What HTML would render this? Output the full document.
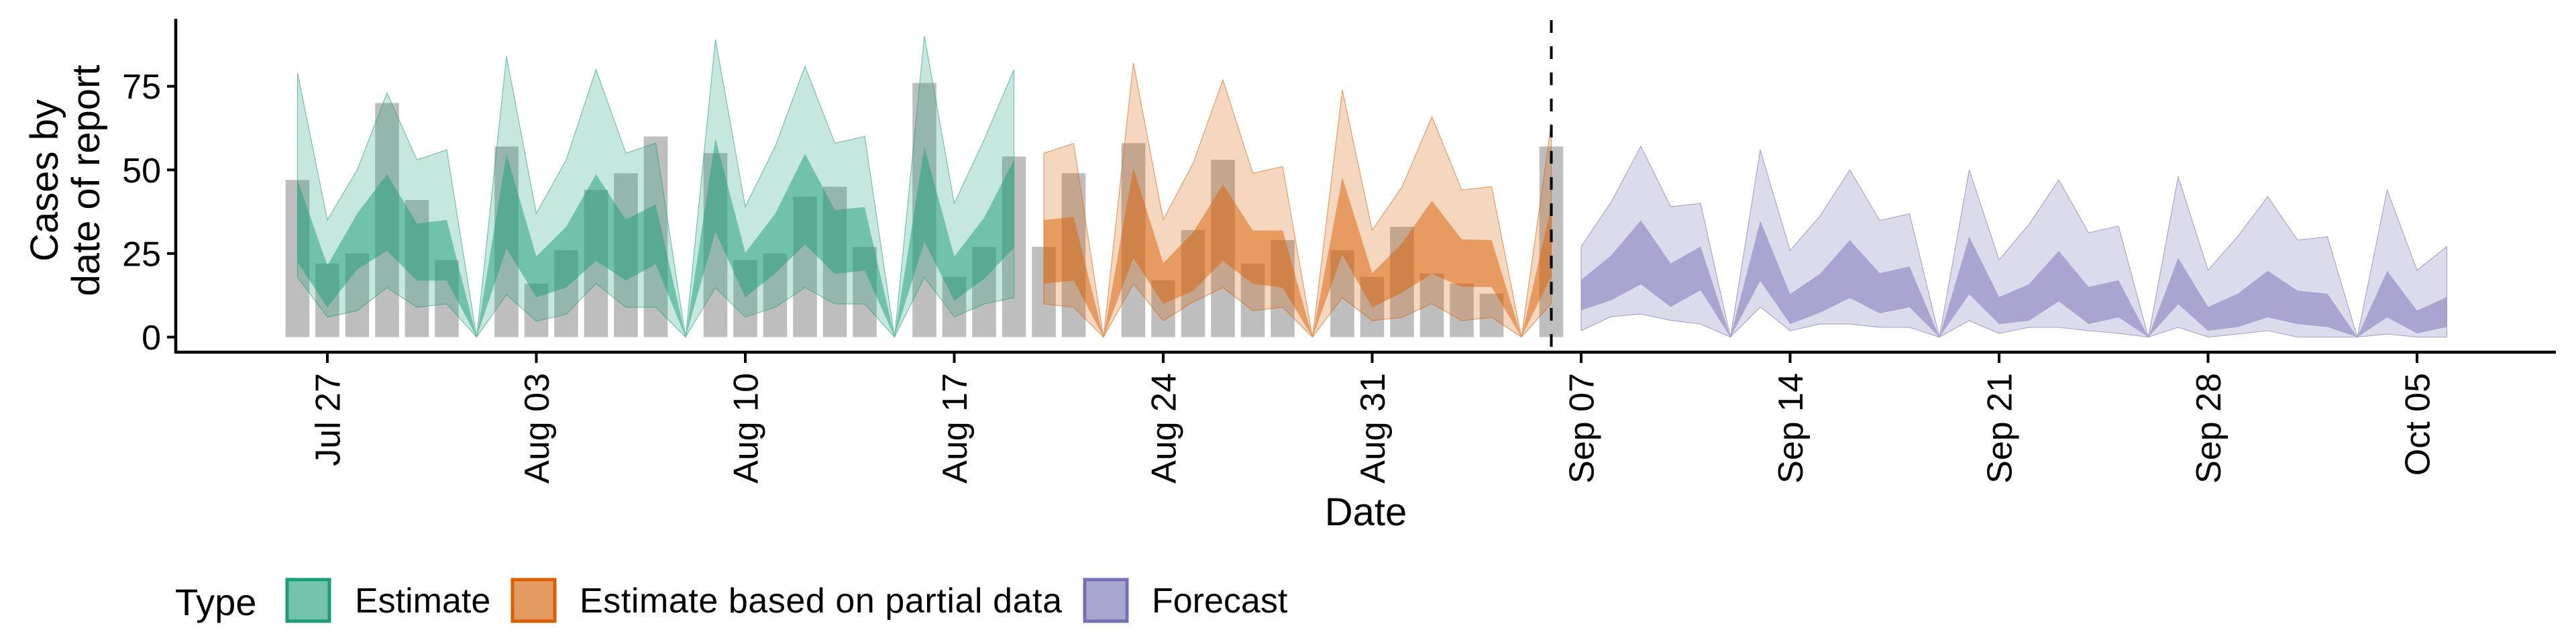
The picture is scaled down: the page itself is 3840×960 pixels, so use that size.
<!DOCTYPE html>
<html><head><meta charset="utf-8"><style>
html,body{margin:0;padding:0;background:#fff}
svg{display:block;font-family:"Liberation Sans",Arial,sans-serif}
</style></head><body>
<svg id="chart" width="3840" height="960" viewBox="0 0 3840 960" xmlns="http://www.w3.org/2000/svg">
<g id="bars"></g>
<g id="ribbons"></g>
<g id="axes"></g>
<text x="2036" y="783" font-size="58" text-anchor="middle">Date</text>
<text transform="translate(86,269) rotate(-90)" font-size="58" text-anchor="middle">Cases by</text>
<text transform="translate(148,269) rotate(-90)" font-size="58" text-anchor="middle">date of report</text>
<g>
<text x="261" y="917" font-size="56">Type</text>
<g>
<rect x="428" y="864" width="63" height="62" fill="#72c3a9" stroke="#1b9e77" stroke-width="5"/>
<text x="529" y="913" font-size="52">Estimate</text></g>
<g>
<rect x="764" y="864" width="63" height="62" fill="#e59a62" stroke="#d95f02" stroke-width="5"/>
<text x="864" y="913" font-size="52" textLength="719">Estimate based on partial data</text></g>
<g>
<rect x="1617" y="864" width="63" height="62" fill="#a8a6cf" stroke="#7570b3" stroke-width="5"/>
<text x="1717" y="913" font-size="52">Forecast</text></g>
</g>
</svg>
<script>
// data
const barStartDay = -1;
const barValues = [47,22,25,70,41,23,0,57,16,26,44,49,60,0,55,23,25,42,45,27,0,76,18,27,54,27,49,0,58,17,32,53,22,29,0,26,18,33,19,16,13,0,57];
const estStartDay = -1;
const estU90 = [79,35,50,73,53,56,0,84,37,53,80,55,58,0,89,39,57,81,58,60,0,90,40,59,80];
const estU50 = [47,21.4,37,48.7,34,35,0,54.8,24.1,33,48.7,35.1,39.7,0,59.4,25.2,36.9,54.8,38,38.9,0,56.8,24.1,35.7,53];
const estL50 = [22.4,8.9,20.2,25.8,16.9,16.9,0,26.5,11.9,14.8,22.8,16.9,21.8,0,31.5,11.9,19,27.7,18.9,19.9,0,28.5,10.9,17.4,26.7];
const estL90 = [17.9,6,7.9,14.8,8.9,9.9,0,12.7,4.8,6.8,16,8.9,8.9,0,14.8,6,8.9,14.8,9.9,9.9,0,17.9,6,9.9,11.8];
const partStartDay = 24;
const partU90 = [55,57.9,0,82,35.1,52,76.9,49,51,0,73.9,32,44.9,65.9,44,45,0,63.9];
const partU50 = [35,35.9,0,50.6,22.1,31.3,45.7,31.9,31.9,0,47.8,19.1,28,40.8,29.2,29,0,39.2];
const partL50 = [16,16.9,0,23.6,9.9,13.8,22.8,15.9,14.8,0,24.6,8.9,13.3,18.9,15,15,0,18.3];
const partL90 = [9.9,8.9,0,15.9,4.9,10.5,14.8,7.9,8.9,0,11.8,4.9,5.9,10,4.9,5.9,0,10];
const fcStartDay = 42;
const fcU90 = [27.1,40.3,57.1,39,40,0,56,25.9,36.2,50,34.9,36.9,0,50,23.1,33.7,47,31.2,33.2,0,48,20,30.2,42,29,30,0,44,20,27.1];
const fcU50 = [17.1,24.4,34.9,22,27.1,0,34.8,12.9,18.9,29,19.1,21.1,0,30,12,15.8,25.8,15,17,0,23.7,9,13,19.8,13.9,13,0,19.8,7.9,12];
const fcL50 = [8,11,15.8,9,14,0,16.8,3.9,7.3,11.7,7.1,8.9,0,12.8,3.9,4.9,10.7,3.9,5.9,0,9.8,1.9,3,5.9,3.9,3,0,5.9,1.1,3];
const fcL90 = [1.9,6.1,6.9,5,3.9,0,9,1.9,3.9,3.9,2.9,2.9,0,4.9,1.1,2.9,2.9,1.9,1.1,0,2.9,0,0.9,1.9,0,0,0,0.9,0,0];
const xTickDays = [0,7,14,21,28,35,42,49,56,63,70];
const xTickLabels = ["Jul 27","Aug 03","Aug 10","Aug 17","Aug 24","Aug 31","Sep 07","Sep 14","Sep 21","Sep 28","Oct 05"];
const yTicks = [0,25,50,75];
const forecastDay = 41;

const NS = "http://www.w3.org/2000/svg";
const x = d => 488 + 44.5 * d;
const y = v => 502.5 - 4.985 * v;
function mk(tag, attrs, parent){const e=document.createElementNS(NS,tag);for(const k in attrs)e.setAttribute(k,attrs[k]);parent.appendChild(e);return e;}

const gb = document.getElementById('bars');
barValues.forEach((v,i)=>{
  const d = barStartDay + i;
  const r = mk('rect',{x:x(d)-17.8,y:y(v),width:35.6,height:Math.max(0,y(0)-y(v)),fill:'#bebebe'},gb);
  
  
});

const gr = document.getElementById('ribbons');
function band(start, up, lo, color, op, stroke, name){
  let p = '';
  up.forEach((v,i)=>{p += (i?'L':'M') + x(start+i).toFixed(1) + ',' + y(v).toFixed(1);});
  for(let i=lo.length-1;i>=0;i--) p += 'L' + x(start+i).toFixed(1) + ',' + y(lo[i]).toFixed(1);
  p += 'Z';
  const e = mk('path',{d:p,fill:color,'fill-opacity':op,stroke:stroke?color:'none','stroke-width':1.1,'stroke-opacity':0.6},gr);
  
  
}
band(estStartDay, estU90, estL90, '#1b9e77', 0.25, true, 'estimate-90-band');
band(estStartDay, estU50, estL50, '#1b9e77', 0.5, false, 'estimate-50-band');
band(partStartDay, partU90, partL90, '#d95f02', 0.25, true, 'partial-90-band');
band(partStartDay, partU50, partL50, '#d95f02', 0.5, false, 'partial-50-band');
band(fcStartDay, fcU90, fcL90, '#7570b3', 0.25, true, 'forecast-90-band');
band(fcStartDay, fcU50, fcL50, '#7570b3', 0.5, false, 'forecast-50-band');

const ga = document.getElementById('axes');
const dl = mk('line',{x1:x(forecastDay),x2:x(forecastDay),y1:30,y2:525,stroke:'#000','stroke-width':4,'stroke-dasharray':'19 20'},ga);


const ya = mk('line',{x1:262,x2:262,y1:28,y2:527,stroke:'#000','stroke-width':4.5},ga);


const xa = mk('line',{x1:260,x2:3810,y1:525,y2:525,stroke:'#000','stroke-width':4.5},ga);


yTicks.forEach(v=>{
  const t = mk('line',{x1:249,x2:262,y1:y(v),y2:y(v),stroke:'#000','stroke-width':4},ga);
  
  
  const l = mk('text',{x:240,y:y(v)+18.5,'font-size':52,'text-anchor':'end'},ga);
  l.textContent = v;
  
  
});
xTickDays.forEach((d,i)=>{
  const t = mk('line',{x1:x(d),x2:x(d),y1:525,y2:541,stroke:'#000','stroke-width':4},ga);
  
  
  const l = mk('text',{transform:'translate('+(x(d)+18.5)+',556) rotate(-90)','font-size':52,'text-anchor':'end'},ga);
  l.textContent = xTickLabels[i];
  
  
});
</script>
</body></html>
